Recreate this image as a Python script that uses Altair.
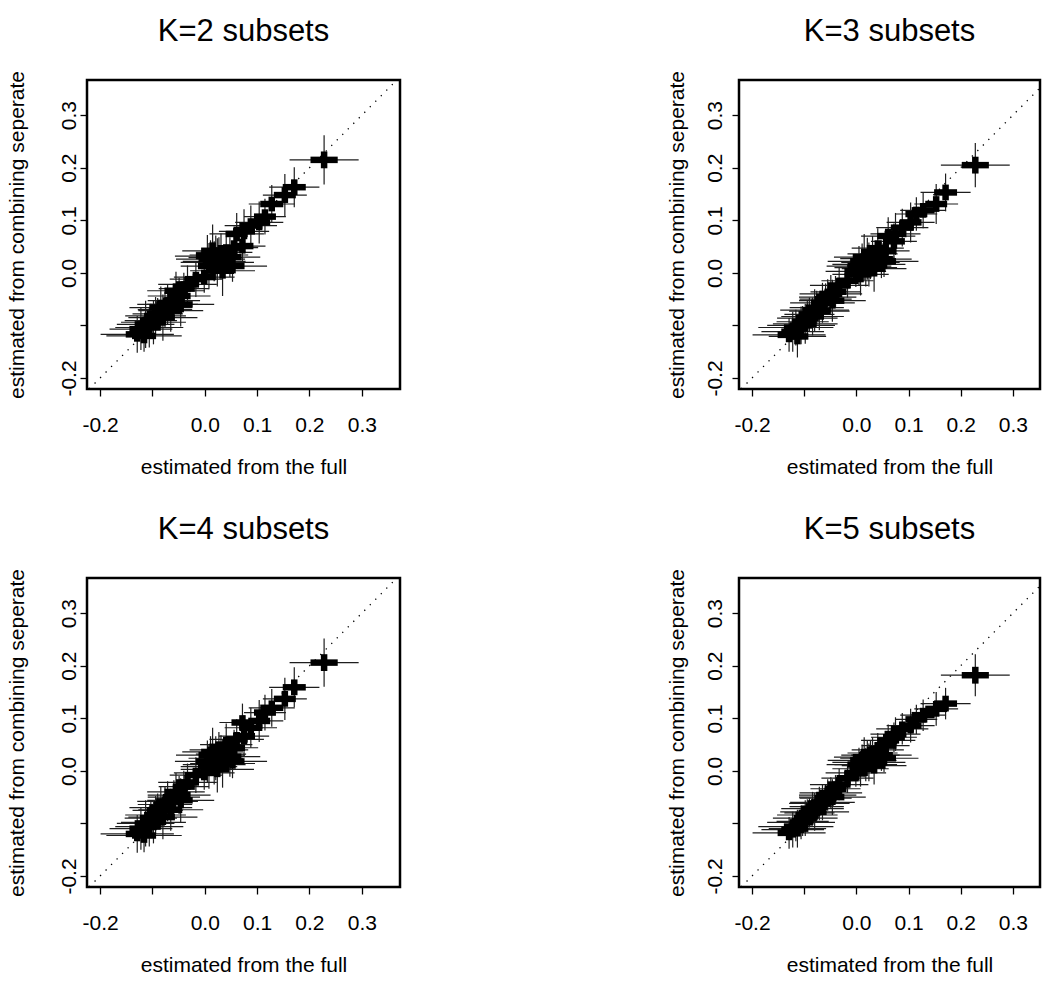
import altair as alt
import pandas as pd

FONT = "Liberation Sans"

# shared x (estimated from the full data)
X = [-0.129, -0.122, -0.116, -0.113, -0.106, -0.103, -0.098, -0.094, -0.090, -0.084,
     -0.080, -0.076, -0.071, -0.065, -0.059, -0.055, -0.049, -0.046, -0.040, -0.033,
     -0.017, -0.001, 0.005, 0.008, 0.011, 0.015, 0.018, 0.021, 0.024, 0.027,
     0.031, 0.034, 0.041, 0.048, 0.056, 0.053, 0.061, 0.072, 0.075, 0.088,
     0.104, 0.115, 0.128, 0.153, 0.171, 0.228]
# thin (long) horizontal half-widths
XT = [0.070, 0.060, 0.072, 0.055, 0.065, 0.050, 0.062, 0.058, 0.048, 0.060,
      0.066, 0.052, 0.058, 0.062, 0.050, 0.055, 0.060, 0.064, 0.048, 0.056,
      0.050, 0.058, 0.062, 0.054, 0.066, 0.058, 0.060, 0.052, 0.070, 0.056,
      0.048, 0.062, 0.050, 0.058, 0.046, 0.066, 0.052, 0.044, 0.048, 0.050,
      0.046, 0.040, 0.044, 0.042, 0.048, 0.066]
# thick (short) horizontal half-widths
XK = [0.022, 0.022, 0.023, 0.021, 0.022, 0.021, 0.022, 0.022, 0.021, 0.022,
      0.023, 0.021, 0.022, 0.022, 0.021, 0.022, 0.022, 0.023, 0.021, 0.022,
      0.021, 0.022, 0.022, 0.021, 0.023, 0.022, 0.022, 0.021, 0.023, 0.022,
      0.021, 0.022, 0.021, 0.022, 0.021, 0.023, 0.021, 0.021, 0.021, 0.022,
      0.021, 0.021, 0.022, 0.021, 0.022, 0.026]

Y2 = [-0.117, -0.107, -0.120, -0.098, -0.104, -0.091, -0.094, -0.082, -0.078, -0.066,
      -0.085, -0.070, -0.060, -0.072, -0.053, -0.034, -0.044, -0.060, -0.030, -0.022,
      -0.012, -0.008, 0.032, 0.013, 0.026, 0.042, 0.022, 0.029, 0.020, 0.034,
      0.039, 0.004, 0.039, 0.030, 0.048, 0.013, 0.074, 0.051, 0.079, 0.090,
      0.096, 0.107, 0.131, 0.148, 0.163, 0.215]
Y3 = [-0.118, -0.112, -0.104, -0.121, -0.100, -0.093, -0.097, -0.086, -0.079, -0.083,
      -0.071, -0.066, -0.073, -0.057, -0.050, -0.046, -0.040, -0.053, -0.036, -0.024,
      -0.015, 0.003, 0.013, -0.003, 0.022, 0.030, 0.010, 0.027, 0.016, 0.020,
      0.036, 0.008, 0.047, 0.026, 0.042, 0.022, 0.070, 0.060, 0.074, 0.086,
      0.096, 0.112, 0.119, 0.131, 0.153, 0.205]
Y4 = [-0.120, -0.110, -0.123, -0.100, -0.106, -0.090, -0.098, -0.084, -0.075, -0.070,
      -0.088, -0.064, -0.058, -0.074, -0.050, -0.040, -0.046, -0.056, -0.030, -0.022,
      -0.008, -0.004, 0.018, 0.008, 0.030, 0.036, 0.012, 0.024, 0.003, 0.040,
      0.032, 0.014, 0.050, 0.027, 0.044, 0.018, 0.060, 0.092, 0.066, 0.082,
      0.095, 0.111, 0.120, 0.137, 0.159, 0.206]
Y5 = [-0.118, -0.112, -0.106, -0.110, -0.098, -0.096, -0.090, -0.084, -0.080, -0.072,
      -0.078, -0.068, -0.062, -0.060, -0.052, -0.046, -0.042, -0.050, -0.034, -0.026,
      -0.014, -0.004, 0.012, 0.004, 0.020, 0.026, 0.012, 0.024, 0.016, 0.030,
      0.034, 0.010, 0.040, 0.030, 0.048, 0.024, 0.058, 0.064, 0.070, 0.080,
      0.086, 0.098, 0.106, 0.118, 0.128, 0.182]

# thin vertical half-heights per panel
YT2 = [0.035, 0.040, 0.030, 0.045, 0.038, 0.032, 0.042, 0.036, 0.030, 0.040,
       0.044, 0.034, 0.038, 0.040, 0.030, 0.036, 0.034, 0.042, 0.030, 0.036,
       0.034, 0.030, 0.040, 0.044, 0.036, 0.050, 0.038, 0.042, 0.046, 0.034,
       0.036, 0.048, 0.040, 0.038, 0.034, 0.030, 0.040, 0.036, 0.042, 0.038,
       0.040, 0.034, 0.036, 0.040, 0.038, 0.047]
YT3 = [0.032, 0.038, 0.034, 0.040, 0.036, 0.030, 0.038, 0.034, 0.032, 0.036,
       0.040, 0.032, 0.036, 0.038, 0.030, 0.034, 0.036, 0.040, 0.030, 0.034,
       0.032, 0.030, 0.038, 0.040, 0.034, 0.044, 0.036, 0.040, 0.042, 0.032,
       0.034, 0.044, 0.038, 0.036, 0.032, 0.030, 0.036, 0.034, 0.040, 0.036,
       0.038, 0.032, 0.034, 0.038, 0.036, 0.042]
YT4 = [0.036, 0.040, 0.032, 0.044, 0.038, 0.032, 0.040, 0.036, 0.032, 0.040,
       0.042, 0.034, 0.038, 0.040, 0.032, 0.036, 0.036, 0.042, 0.030, 0.036,
       0.034, 0.032, 0.040, 0.042, 0.036, 0.046, 0.038, 0.042, 0.044, 0.034,
       0.036, 0.046, 0.040, 0.038, 0.034, 0.032, 0.038, 0.036, 0.040, 0.038,
       0.040, 0.034, 0.036, 0.040, 0.038, 0.046]
YT5 = [0.030, 0.034, 0.028, 0.036, 0.032, 0.028, 0.034, 0.030, 0.028, 0.032,
       0.036, 0.028, 0.032, 0.034, 0.026, 0.030, 0.030, 0.034, 0.026, 0.030,
       0.028, 0.026, 0.032, 0.034, 0.030, 0.038, 0.032, 0.034, 0.036, 0.028,
       0.030, 0.036, 0.032, 0.030, 0.028, 0.026, 0.030, 0.028, 0.032, 0.030,
       0.032, 0.028, 0.030, 0.032, 0.030, 0.040]
# thick vertical half-heights (same pattern in every panel)
YK = [0.014, 0.015, 0.014, 0.015, 0.014, 0.014, 0.015, 0.014, 0.014, 0.015,
      0.015, 0.014, 0.014, 0.015, 0.014, 0.014, 0.014, 0.015, 0.014, 0.014,
      0.014, 0.014, 0.015, 0.015, 0.014, 0.016, 0.014, 0.015, 0.015, 0.014,
      0.014, 0.015, 0.015, 0.014, 0.014, 0.014, 0.014, 0.014, 0.015, 0.014,
      0.015, 0.014, 0.014, 0.015, 0.015, 0.016]

TITLES = ["K=2 subsets", "K=3 subsets", "K=4 subsets", "K=5 subsets"]
TICKS = [-0.2, -0.1, 0.0, 0.1, 0.2, 0.3]
XDOM_LEFT = [-0.225, 0.373]    # left column panels
XDOM_RIGHT = [-0.225, 0.352]   # right column panels (narrower)
YDOM = [-0.221, 0.367]

LABEL_EXPR = ("abs(datum.value + 0.1) < 1e-9 ? '' : "
              "(datum.value < -1e-9 ? '-' + format(-datum.value, '.1f') : format(abs(datum.value), '.1f'))")


def make_axis(title, is_y, lab_pad=8, title_pad=20):
    common = dict(values=TICKS, labelExpr=LABEL_EXPR, title=title, grid=False, domain=False,
                  tickColor="black", tickWidth=1.3, tickSize=7,
                  labelFont=FONT, labelFontSize=21, labelColor="black",
                  titleFont=FONT, titleFontSize=21, titleFontWeight="normal", titleColor="black")
    if is_y:
        return alt.Axis(labelAngle=270, labelAlign="center", labelBaseline="alphabetic",
                        labelPadding=lab_pad, titlePadding=title_pad, **common)
    return alt.Axis(labelPadding=18, titlePadding=21, **common)


def panel(title, ys, yt, xdom, width, ylab_pad, ytitle_pad):
    df = pd.DataFrame({
        "x": X, "y": ys,
        "xlo": [a - b for a, b in zip(X, XT)], "xhi": [a + b for a, b in zip(X, XT)],
        "xklo": [a - b for a, b in zip(X, XK)], "xkhi": [a + b for a, b in zip(X, XK)],
        "ylo": [a - b for a, b in zip(ys, yt)], "yhi": [a + b for a, b in zip(ys, yt)],
        "yklo": [a - b for a, b in zip(ys, YK)], "ykhi": [a + b for a, b in zip(ys, YK)],
    })
    xs = alt.Scale(domain=xdom, nice=False, zero=False)
    ysc = alt.Scale(domain=YDOM, nice=False, zero=False)
    xax = make_axis("estimated from the full", False)
    yax = make_axis("estimated from combining seperate", True, ylab_pad, ytitle_pad)
    base = alt.Chart(df)
    thin_h = base.mark_rule(color="#1e1e1e", strokeWidth=1.2, clip=True).encode(
        x=alt.X("xlo:Q", scale=xs, axis=xax), x2="xhi:Q",
        y=alt.Y("y:Q", scale=ysc, axis=yax))
    thin_v = base.mark_rule(color="#1e1e1e", strokeWidth=1.2, clip=True).encode(
        x=alt.X("x:Q", scale=xs, axis=xax),
        y=alt.Y("ylo:Q", scale=ysc, axis=yax), y2="yhi:Q")
    thick_h = base.mark_rule(color="black", strokeWidth=6.5, strokeCap="butt", clip=True).encode(
        x=alt.X("xklo:Q", scale=xs, axis=xax), x2="xkhi:Q",
        y=alt.Y("y:Q", scale=ysc, axis=yax))
    thick_v = base.mark_rule(color="black", strokeWidth=6.5, strokeCap="butt", clip=True).encode(
        x=alt.X("x:Q", scale=xs, axis=xax),
        y=alt.Y("yklo:Q", scale=ysc, axis=yax), y2="ykhi:Q")
    diag_df = pd.DataFrame({"v": [max(xdom[0], YDOM[0]), min(xdom[1], YDOM[1])]})
    diag = alt.Chart(diag_df).mark_line(color="black", strokeWidth=1.3, strokeDash=[1.3, 6.5],
                                        clip=True).encode(
        x=alt.X("v:Q", scale=xs, axis=xax), y=alt.Y("v:Q", scale=ysc, axis=yax))
    return alt.layer(diag, thin_h, thin_v, thick_h, thick_v).properties(
        width=width, height=309,
        title=alt.TitleParams(title, font=FONT, fontSize=31, fontWeight="normal", color="black",
                              anchor="middle", baseline="alphabetic", offset=-1))


p1 = panel(TITLES[0], Y2, YT2, XDOM_LEFT, 313, 5, 31)
p2 = panel(TITLES[1], Y3, YT3, XDOM_RIGHT, 301, 11, 17)
p3 = panel(TITLES[2], Y4, YT4, XDOM_LEFT, 313, 5, 31)
p4 = panel(TITLES[3], Y5, YT5, XDOM_RIGHT, 301, 11, 17)

chart = alt.concat(p1, p2, p3, p4, columns=2, spacing={"row": 189, "column": 339},
                   bounds="flush").properties(
    padding={"left": 4, "top": 14, "right": 5, "bottom": 5},
    background="white",
).configure_view(stroke="black", strokeWidth=2.5)

chart.save("out.html", embed_options={"renderer": "svg", "actions": False})
